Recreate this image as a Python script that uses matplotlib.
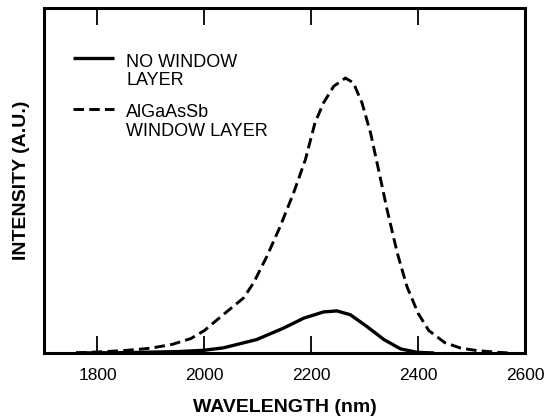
import numpy as np
import matplotlib
matplotlib.use("Agg")
import matplotlib.pyplot as plt
from matplotlib.legend_handler import HandlerLine2D

plt.rcParams['font.family'] = ['Liberation Sans', 'DejaVu Sans']

# Electroluminescence spectra (arbitrary units)
wl_window = [1760, 1800, 1850, 1900, 1940, 1975, 2000, 2036, 2073, 2092, 2117,
             2142, 2167, 2189, 2207, 2223, 2242, 2264, 2279, 2295, 2311, 2326,
             2342, 2361, 2379, 2400, 2420, 2450, 2480, 2510, 2550, 2570]
int_window = [0.0, 0.003, 0.007, 0.014, 0.025, 0.042, 0.065, 0.112, 0.159, 0.203,
              0.280, 0.367, 0.464, 0.560, 0.667, 0.725, 0.773, 0.797, 0.783, 0.725,
              0.638, 0.531, 0.415, 0.290, 0.193, 0.115, 0.065, 0.030, 0.014, 0.007,
              0.002, 0.0]

wl_nowindow = [1760, 1850, 1950, 2000, 2036, 2098, 2148, 2186, 2223, 2248, 2273,
               2304, 2336, 2367, 2398, 2430]
int_nowindow = [0.0, 0.001, 0.004, 0.008, 0.015, 0.039, 0.072, 0.101, 0.119, 0.122,
                0.111, 0.077, 0.039, 0.012, 0.002, 0.0]

labels = ["NO WINDOW\nLAYER", "AlGaAsSb\nWINDOW LAYER"]
xticks = [1800, 2000, 2200, 2400, 2600]


class FirstLineHandler(HandlerLine2D):
    """Place the legend sample level with the first line of a two-line label."""
    def create_artists(self, legend, orig_handle, xdescent, ydescent, width,
                       height, fontsize, trans):
        artists = super().create_artists(legend, orig_handle, xdescent, ydescent,
                                          width, height, fontsize, trans)
        shift = 0.5 * fontsize * 1.45
        for a in artists:
            a.set_ydata(np.asarray(a.get_ydata(), dtype=float) + shift)
        return artists


fig = plt.figure(figsize=(5.47, 4.17), dpi=100)
ax = fig.add_axes([44 / 547, 1 - 353 / 417, 481 / 547, 345 / 417])

l1, = ax.plot(wl_nowindow, int_nowindow, color='black', lw=2.4, solid_capstyle='butt')
l2, = ax.plot(wl_window, int_window, color='black', lw=2.1,
              linestyle=(0, (3.6, 1.8)), dash_capstyle='butt')

ax.set_xlim(1700, 2600)
ax.set_ylim(0, 1)
ax.set_xticks(xticks)
ax.set_yticks([])
ax.tick_params(axis='x', direction='in', top=True, bottom=True, length=12,
               width=1.3, pad=11, labelsize=12.5)
for s in ax.spines.values():
    s.set_linewidth(2.2)

ax.set_xlabel("WAVELENGTH (nm)", fontsize=14, fontweight='bold', labelpad=11)
ax.set_ylabel("INTENSITY (A.U.)", fontsize=14, fontweight='bold', labelpad=10)

handler = FirstLineHandler()
leg = ax.legend([l1, l2], labels, loc='upper left', bbox_to_anchor=(0.06, 0.868),
                frameon=False, fontsize=13, borderpad=0, borderaxespad=0,
                handlelength=2.3, handletextpad=0.65, labelspacing=0.85,
                handler_map={l1: handler, l2: handler})
for t in leg.get_texts():
    t.set_linespacing(1.12)

fig.savefig("out.png", dpi=100)
